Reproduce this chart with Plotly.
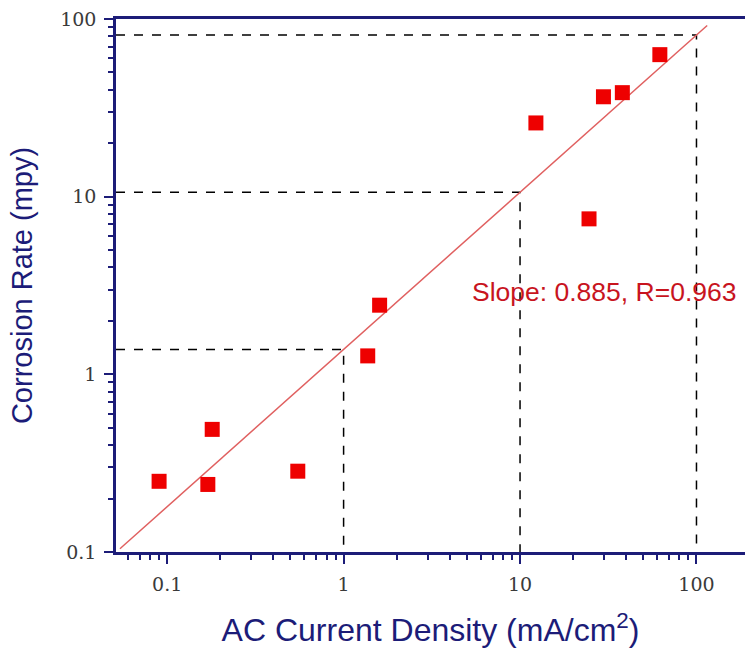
import plotly.graph_objects as go
import numpy as np

# Data
current_density = [0.09, 0.17, 0.18, 0.55, 1.37, 1.6, 12.3, 24.6, 29.7, 38, 62]
corrosion_rate = [0.25, 0.24, 0.49, 0.285, 1.27, 2.45, 26, 7.5, 36.5, 38.5, 63]

fit_slope = 0.885
fit_intercept_log = 0.14  # log10(rate) at current density = 1
fit_x_ends = [0.054, 115]

ref_x = [1, 10, 100]

tick_vals = [0.1, 1, 10, 100]
tick_text = ["0.1", "1", "10", "100"]

navy = "#1c1c78"

def fit(x):
    return 10 ** (fit_intercept_log + fit_slope * np.log10(x))

fig = go.Figure()

# dashed reference lines
x_min = 10 ** -1.29
y_min = 0.1
for xv in ref_x:
    yv = float(fit(xv))
    fig.add_trace(go.Scatter(x=[x_min, xv, xv], y=[yv, yv, y_min], mode="lines",
                             line=dict(color="black", width=1.5, dash="dash"),
                             showlegend=False, hoverinfo="skip"))

# fit line
fx = np.array(fit_x_ends)
fig.add_trace(go.Scatter(x=fx, y=fit(fx), mode="lines",
                         line=dict(color="#e06060", width=1.5),
                         showlegend=False))

# data points
fig.add_trace(go.Scatter(x=current_density, y=corrosion_rate, mode="markers",
                         marker=dict(symbol="square", size=15, color="#ee0000"),
                         showlegend=False))

fig.add_annotation(x=np.log10(5.2), y=np.log10(2.9), xref="x", yref="y",
                   text="Slope: 0.885, R=0.963", showarrow=False,
                   font=dict(family="Liberation Sans, Arial", size=26.5, color="#c8141e"),
                   xanchor="left", yanchor="middle")

tickfont = dict(family="DejaVu Serif", size=19, color="#3a3a3a")
fig.update_xaxes(type="log", range=[-1.29, 2.275], showline=True, linecolor=navy,
                 linewidth=2.5, mirror=True, ticks="outside", ticklen=9, tickwidth=2,
                 tickcolor=navy, tickvals=tick_vals, ticktext=tick_text,
                 minor=dict(ticks="outside", ticklen=5, tickwidth=2, tickcolor=navy, dtick="D1"),
                 showgrid=False, zeroline=False, automargin=False,
                 tickfont=tickfont, ticklabelstandoff=4,
                 title=dict(text="AC Current Density (mA/cm<sup>2</sup>)",
                            font=dict(family="Liberation Sans, Arial", size=32, color=navy),
                            standoff=28))
fig.update_yaxes(type="log", range=[-1, 2], showline=True, linecolor=navy,
                 linewidth=2.5, mirror=False, ticks="outside", ticklen=9, tickwidth=2,
                 tickcolor=navy, tickvals=tick_vals, ticktext=tick_text,
                 minor=dict(ticks="outside", ticklen=5, tickwidth=2, tickcolor=navy, dtick="D1"),
                 showgrid=False, zeroline=False, automargin=False,
                 tickfont=tickfont, ticklabelstandoff=4,
                 title=dict(text="Corrosion Rate (mpy)",
                            font=dict(family="Liberation Sans, Arial", size=29, color=navy),
                            standoff=20))

fig.update_layout(width=745, height=648, margin=dict(l=116, r=0, t=19, b=96),
                  plot_bgcolor="white", paper_bgcolor="white")

fig.write_html("out.html")
